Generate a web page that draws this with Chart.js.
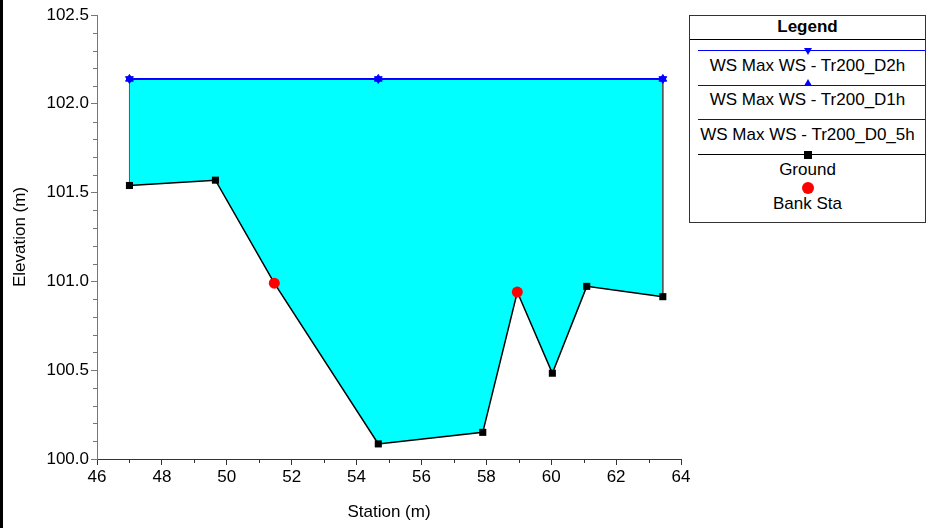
<!DOCTYPE html>
<html>
<head>
<meta charset="utf-8">
<script src="https://cdn.jsdelivr.net/npm/chart.js@4/dist/chart.umd.min.js"></script>
<style>
html,body{margin:0;padding:0;background:#fff;}
body{width:926px;height:528px;position:relative;overflow:hidden;font-family:"Liberation Sans",Arial,sans-serif;}
#c{position:absolute;left:0;top:0;}
#edge{position:absolute;left:0;top:0;width:3px;height:528px;background:#000;}
#legend{position:absolute;left:689px;top:15px;width:237px;height:208px;box-sizing:border-box;border:1px solid #333;background:#fff;}
#legend .t{position:absolute;left:0;width:100%;text-align:center;font-size:17px;line-height:20px;height:20px;color:#000;white-space:nowrap;}
#legend .ttl{font-weight:bold;}
#legend .sep{position:absolute;left:0;width:100%;height:0;border-top:1px solid #000;}
#legend .ln{position:absolute;left:8px;right:0;height:0;}
#legend .mk{position:absolute;}
</style>
</head>
<body>
<canvas id="c" width="926" height="528"></canvas>
<div id="edge"></div>
<div id="legend"></div>
<script>
// ---- data ----
const groundStation = [47.0, 49.65, 51.465, 54.67, 57.89, 58.955, 60.035, 61.095, 63.44];
const groundElev    = [101.54, 101.57, 100.99, 100.085, 100.15, 100.94, 100.483, 100.972, 100.914];
const bankStation   = [51.465, 58.955];
const bankElev      = [100.99, 100.94];
const wsStation     = [47.0, 54.67, 63.44];
const wsD2h         = [102.14, 102.14, 102.14];
const wsD1h         = [102.14, 102.14, 102.14];
const wsD05h        = [102.14, 102.14, 102.14];
const xTicks = [46, 48, 50, 52, 54, 56, 58, 60, 62, 64];
const yTicks = [100.0, 100.5, 101.0, 101.5, 102.0, 102.5];
const seriesNames = ['WS Max WS - Tr200_D2h', 'WS Max WS - Tr200_D1h', 'WS Max WS - Tr200_D0_5h', 'Ground', 'Bank Sta'];

const pts = (xs, ys) => xs.map((x, i) => ({x: x, y: ys[i]}));
const FONT = '"Liberation Sans", Arial, sans-serif';
const BLUE = '#0000ff';

const groundPts = pts(groundStation, groundElev);
const edgePts = [
  groundPts[0], {x: wsStation[0], y: wsD2h[0]}, {x: NaN, y: NaN},
  {x: wsStation[wsStation.length - 1], y: wsD2h[wsD2h.length - 1]}, groundPts[groundPts.length - 1]
];

const datasets = [
  {label: seriesNames[0], data: pts(wsStation, wsD2h), showLine: true, borderColor: BLUE, borderWidth: 2,
   pointStyle: 'triangle', rotation: 180, pointRadius: 4.5, pointBackgroundColor: BLUE, pointBorderColor: BLUE, pointBorderWidth: 1, fill: false, order: 0, _mk: 'down'},
  {label: seriesNames[1], data: pts(wsStation, wsD1h), showLine: true, borderColor: BLUE, borderWidth: 2,
   pointStyle: 'triangle', pointRadius: 4.5, pointBackgroundColor: BLUE, pointBorderColor: BLUE, pointBorderWidth: 1, fill: false, order: 1, _mk: 'up'},
  {label: seriesNames[2], data: pts(wsStation, wsD05h), showLine: true, borderColor: BLUE, borderWidth: 2,
   pointRadius: 0, fill: false, order: 2, _mk: null},
  {label: seriesNames[3], data: groundPts, showLine: true, borderColor: '#000', borderWidth: 1.5,
   pointStyle: 'rect', pointRadius: 5, pointBackgroundColor: '#000', pointBorderColor: '#000', pointBorderWidth: 0,
   backgroundColor: '#00ffff', fill: {target: 0, above: '#00ffff', below: '#00ffff'}, order: 3, _mk: 'square'},
  {label: seriesNames[4], data: pts(bankStation, bankElev), showLine: false, pointStyle: 'circle', pointRadius: 5.5,
   pointBackgroundColor: '#ff0000', pointBorderColor: '#ff0000', pointBorderWidth: 0, fill: false, order: -1, _mk: 'circle'},
  {label: '_edges', data: edgePts, showLine: true, spanGaps: false, borderColor: '#555', borderWidth: 1, pointRadius: 0, fill: false, order: 10}
];

const minorTicks = {
  id: 'minorTicks',
  afterDraw(chart) {
    const {ctx, scales: {x, y}} = chart;
    ctx.save();
    ctx.lineWidth = 1;
    ctx.strokeStyle = '#777';
    for (let i = 0; i < yTicks.length - 1; i++) {
      for (let k = 1; k < 5; k++) {
        const v = yTicks[i] + (yTicks[i + 1] - yTicks[i]) * k / 5;
        const py = Math.round(y.getPixelForValue(v)) + 0.5;
        ctx.beginPath(); ctx.moveTo(y.right - 4, py); ctx.lineTo(y.right, py); ctx.stroke();
      }
    }
    ctx.strokeStyle = '#333';
    for (let i = 0; i < xTicks.length - 1; i++) {
      const v = (xTicks[i] + xTicks[i + 1]) / 2;
      const px = Math.round(x.getPixelForValue(v)) + 0.5;
      ctx.beginPath(); ctx.moveTo(px, x.top); ctx.lineTo(px, x.top + 4); ctx.stroke();
    }
    ctx.restore();
  }
};

new Chart(document.getElementById('c'), {
  type: 'scatter',
  data: {datasets: datasets},
  plugins: [minorTicks],
  options: {
    responsive: false,
    animation: false,
    events: [],
    layout: {padding: {left: 0, right: 245, top: 15, bottom: 0}},
    elements: {line: {tension: 0}},
    plugins: {
      legend: {display: false},
      tooltip: {enabled: false},
      filler: {drawTime: 'beforeDatasetsDraw'}
    },
    scales: {
      x: {
        type: 'linear', min: xTicks[0], max: xTicks[xTicks.length - 1],
        afterBuildTicks: s => { s.ticks = xTicks.map(v => ({value: v})); },
        afterFit: s => { s.height = 69; },
        ticks: {font: {size: 17, family: FONT}, color: '#000', padding: 2, maxRotation: 0, autoSkip: false,
                callback: v => String(v)},
        grid: {display: true, drawOnChartArea: false, drawTicks: true, tickLength: 6, tickColor: '#333'},
        border: {display: true, color: '#333', width: 1},
        title: {display: true, text: 'Station (m)', color: '#000', font: {size: 17, family: FONT}, padding: {top: 5, bottom: 5}}
      },
      y: {
        type: 'linear', min: yTicks[0], max: yTicks[yTicks.length - 1],
        afterBuildTicks: s => { s.ticks = yTicks.map(v => ({value: v})); },
        afterFit: s => { s.width = 97; },
        ticks: {font: {size: 17, family: FONT}, color: '#000', padding: 2, callback: v => Number(v).toFixed(1)},
        grid: {display: true, drawOnChartArea: false, drawTicks: true, tickLength: 6, tickColor: '#777'},
        border: {display: true, color: '#777', width: 1},
        title: {display: true, text: 'Elevation (m)', color: '#000', font: {size: 17, family: FONT}, padding: {top: 10, bottom: 0}}
      }
    }
  }
});

// ---- legend (HTML) ----
const lg = document.getElementById('legend');
function add(cls, style, text) {
  const d = document.createElement('div');
  d.className = cls;
  Object.assign(d.style, style);
  if (text) d.textContent = text;
  lg.appendChild(d);
  return d;
}
add('t ttl', {top: '1px'}, 'Legend');
add('sep', {top: '23px'});
const lineY = [34, 69, 103, 138, null];
const textY = [50, 84, 119, 154, 188];
const mkY = [34, 69, null, 138, 172];
const MX = 118;
datasets.slice(0, 5).forEach((ds, i) => {
  if (lineY[i] !== null && ds.showLine) add('ln', {top: lineY[i] + 'px', borderTop: '1px solid ' + ds.borderColor});
  const m = ds._mk, cy = mkY[i];
  if (m === 'down') add('mk', {left: (MX - 4) + 'px', top: (cy - 2) + 'px', width: 0, height: 0,
      borderLeft: '4px solid transparent', borderRight: '4px solid transparent', borderTop: '7px solid ' + BLUE});
  if (m === 'up') add('mk', {left: (MX - 4) + 'px', top: (cy - 6) + 'px', width: 0, height: 0,
      borderLeft: '4px solid transparent', borderRight: '4px solid transparent', borderBottom: '7px solid ' + BLUE});
  if (m === 'square') add('mk', {left: (MX - 4) + 'px', top: (cy - 3) + 'px', width: '8px', height: '8px', background: '#000'});
  if (m === 'circle') add('mk', {left: (MX - 6) + 'px', top: (cy - 6) + 'px', width: '12px', height: '12px', borderRadius: '50%', background: '#ff0000'});
  add('t', {top: (textY[i] - 10) + 'px'}, ds.label);
});
</script>
</body>
</html>
